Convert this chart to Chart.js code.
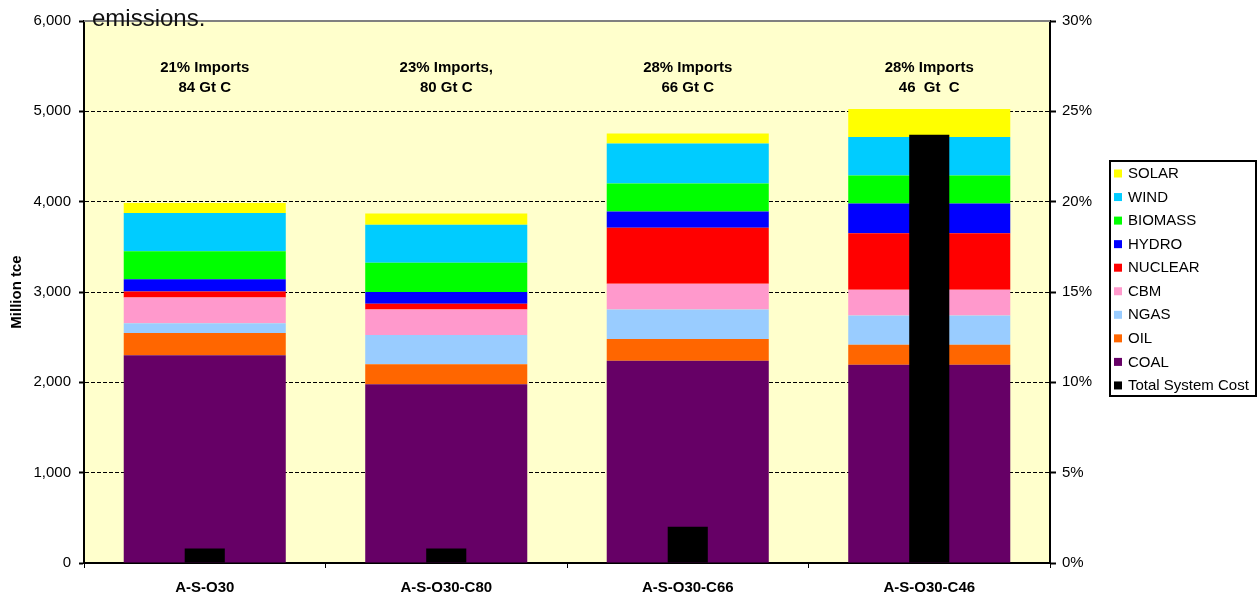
<!DOCTYPE html>
<html>
<head>
<meta charset="utf-8">
<script src="https://cdn.jsdelivr.net/npm/chart.js@4/dist/chart.umd.min.js"></script>
<style>
  html, body { margin: 0; padding: 0; background: #fff; }
  canvas { display: block; }
</style>
</head>
<body>
<canvas id="chart" width="1257" height="595"></canvas>
<script>
// Scenario names along the x axis
const scenarios = ['A-S-O30', 'A-S-O30-C80', 'A-S-O30-C66', 'A-S-O30-C46'];

// Primary energy by source, million tce (stacked, left axis)
const coal    = [2300, 1980, 2240, 2195];
const oil     = [245, 220, 240, 220];
const ngas    = [110, 325, 325, 325];
const cbm     = [285, 280, 285, 285];
const nuclear = [65, 65, 620, 625];
const hydro   = [135, 130, 180, 330];
const biomass = [310, 325, 310, 310];
const wind    = [425, 420, 445, 425];
const solar   = [110, 125, 110, 310];

// Total system cost, percent (right axis)
const totalSystemCost = [0.8, 0.8, 2.0, 23.7];

// Notes printed above each scenario
const importShares = ['21% Imports', '23% Imports,', '28% Imports', '28% Imports'];
const carbonTotals = ['84 Gt C', '80 Gt C', '66 Gt C', '46  Gt  C'];

const FONT = '"Liberation Sans", Arial, Helvetica, sans-serif';
Chart.defaults.font.family = FONT;
Chart.defaults.color = '#000';

const stackWidth = 0.671;
const costWidth = 0.166;

function energySet(label, data, color) {
  return {
    label, data,
    backgroundColor: color,
    borderWidth: 0,
    yAxisID: 'y',
    grouped: false,
    categoryPercentage: 1,
    barPercentage: stackWidth,
    order: 1
  };
}

const datasets = [
  energySet('COAL', coal, '#660066'),
  energySet('OIL', oil, '#FF6600'),
  energySet('NGAS', ngas, '#99CCFF'),
  energySet('CBM', cbm, '#FF99CC'),
  energySet('NUCLEAR', nuclear, '#FF0000'),
  energySet('HYDRO', hydro, '#0000FF'),
  energySet('BIOMASS', biomass, '#00FF00'),
  energySet('WIND', wind, '#00CCFF'),
  energySet('SOLAR', solar, '#FFFF00'),
  {
    label: 'Total System Cost',
    data: totalSystemCost,
    backgroundColor: '#000000',
    borderWidth: 0,
    yAxisID: 'y2',
    grouped: false,
    categoryPercentage: 1,
    barPercentage: costWidth,
    order: -1
  }
];

// Legend rows, top to bottom: energy sources in reverse stack order, then cost
const legendOrder = [8, 7, 6, 5, 4, 3, 2, 1, 0, 9];

const decor = {
  id: 'decor',
  beforeDraw(chart) {
    const { ctx, chartArea: a } = chart;
    ctx.save();
    ctx.fillStyle = '#FFFFCC';
    ctx.fillRect(a.left, a.top, a.right - a.left, a.bottom - a.top);
    ctx.restore();
  },
  afterDatasetsDraw(chart) {
    const { ctx, chartArea: a } = chart;
    const xs = chart.scales.x;
    ctx.save();
    ctx.fillStyle = '#000';
    ctx.font = 'bold 15px ' + FONT;
    ctx.textAlign = 'center';
    ctx.textBaseline = 'middle';
    scenarios.forEach((s, i) => {
      const x = xs.getPixelForValue(i);
      ctx.fillText(importShares[i], x, a.top + 47);
      ctx.fillText(carbonTotals[i], x, a.top + 66.5);
    });
    ctx.restore();
  },
  afterDraw(chart) {
    const { ctx, chartArea: a } = chart;
    ctx.save();
    // plot frame top edge
    ctx.strokeStyle = '#808080';
    ctx.lineWidth = 2;
    ctx.beginPath();
    ctx.moveTo(a.left, a.top);
    ctx.lineTo(a.right, a.top);
    ctx.stroke();

    // caption fragment in the upper left
    ctx.fillStyle = '#111';
    ctx.font = '24px ' + FONT;
    ctx.textAlign = 'left';
    ctx.textBaseline = 'alphabetic';
    ctx.fillText('emissions.', 92, 26);

    // legend box
    const lx = 1110, ly = 161, lw = 146, lh = 235;
    ctx.fillStyle = '#fff';
    ctx.fillRect(lx, ly, lw, lh);
    ctx.strokeStyle = '#000';
    ctx.lineWidth = 2;
    ctx.strokeRect(lx, ly, lw, lh);
    ctx.font = '15px ' + FONT;
    ctx.textBaseline = 'middle';
    legendOrder.forEach((di, row) => {
      const ds = chart.data.datasets[di];
      const cy = 173.5 + row * 23.55;
      ctx.fillStyle = ds.backgroundColor;
      ctx.fillRect(1114, cy - 4, 8, 8);
      ctx.fillStyle = '#000';
      ctx.fillText(ds.label, 1128, cy + 0.5);
    });
    ctx.restore();
  }
};

new Chart(document.getElementById('chart'), {
  type: 'bar',
  data: { labels: scenarios, datasets },
  options: {
    responsive: false,
    animation: false,
    events: [],
    layout: { padding: { top: 21, right: 159, bottom: 0, left: 0 } },
    plugins: {
      legend: { display: false },
      tooltip: { enabled: false }
    },
    scales: {
      x: {
        offset: true,
        afterFit: (s) => { s.height = 32; },
        grid: {
          offset: true,
          drawOnChartArea: false,
          tickLength: 5,
          tickColor: '#000',
          tickWidth: 1
        },
        border: { display: true, color: '#000', width: 2 },
        ticks: {
          color: '#000',
          padding: 12,
          font: { size: 15, weight: 'bold', lineHeight: 1.0 },
          maxRotation: 0,
          autoSkip: false
        }
      },
      y: {
        position: 'left',
        stacked: true,
        min: 0,
        max: 6000,
        afterFit: (s) => { s.width = 84; },
        ticks: {
          stepSize: 1000,
          padding: 8,
          color: '#000',
          font: { size: 15 },
          callback: (v) => v.toLocaleString('en-US')
        },
        grid: {
          color: (c) => (c.tick && (c.tick.value === 0 || c.tick.value === 6000)) ? 'rgba(0,0,0,0)' : '#000',
          lineWidth: 1,
          tickLength: 5,
          tickColor: '#000',
          tickWidth: 2,
          tickBorderDash: []
        },
        border: { display: true, color: '#000', width: 2, dash: [4, 2] },
        title: {
          display: true,
          text: 'Million tce',
          color: '#000',
          font: { size: 15, weight: 'bold' },
          padding: { top: 7.5, bottom: 0 }
        }
      },
      y2: {
        position: 'right',
        min: 0,
        max: 30,
        afterFit: (s) => { s.width = 48; },
        ticks: {
          stepSize: 5,
          padding: 6,
          color: '#000',
          font: { size: 15 },
          callback: (v) => v + '%'
        },
        grid: {
          drawOnChartArea: false,
          tickLength: 6,
          tickColor: '#000',
          tickWidth: 2
        },
        border: { display: true, color: '#000', width: 2 }
      }
    }
  },
  plugins: [decor]
});
</script>
</body>
</html>
